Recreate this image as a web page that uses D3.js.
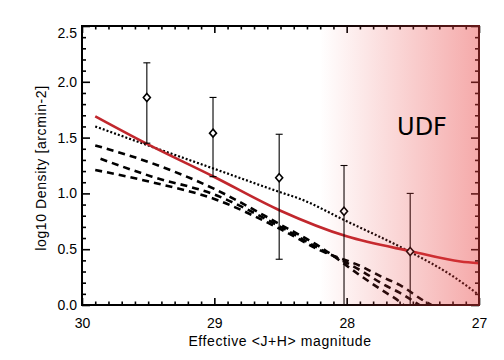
<!DOCTYPE html>
<html><head><meta charset="utf-8">
<script src="https://cdn.jsdelivr.net/npm/d3@7"></script>
<style>body{margin:0;background:#fff}svg{display:block}</style>
</head><body>
<script>
// ---- data ----
const xMajor = [30, 29, 28, 27];
const yMajor = [0.0, 0.5, 1.0, 1.5, 2.0, 2.5];
const pointMag = [29.51, 29.01, 28.51, 28.02, 27.52];
const pointVal = [1.86, 1.54, 1.14, 0.84, 0.48];
const errHigh  = [2.17, 1.86, 1.53, 1.25, 1.00];
const errLow   = [1.45, 1.15, 0.41, -0.2, -0.2];
const redFit = [[29.9,1.69],[29.52,1.45],[29.0,1.147],[28.5,0.845],[28.0,0.615],[27.5,0.478],[27.14,0.39],[27.0,0.375]];
const dottedModel = [[29.9,1.60],[29.5,1.43],[29.0,1.22],[28.5,1.01],[28.35,0.95],[28.02,0.762],[27.52,0.475],[27.2,0.26],[27.0,0.09]];
const dashedA = [[29.9,1.43],[29.47,1.27],[29.0,1.04],[28.5,0.72],[28.2,0.52],[27.88,0.25],[27.73,0.13],[27.6,0.03],[27.57,0.0]];
const dashedB = [[29.86,1.31],[29.47,1.15],[29.0,0.99],[28.5,0.70],[28.2,0.50],[27.88,0.30],[27.73,0.19],[27.6,0.11],[27.45,0.0]];
const dashedC = [[29.9,1.21],[29.47,1.10],[29.0,0.95],[28.5,0.68],[28.2,0.49],[27.88,0.34],[27.73,0.25],[27.6,0.18],[27.42,0.04],[27.36,0.0]];
const udfStart = 28.2;

// ---- layout ----
const W = 504, H = 360;
const L = 82, R = 479, T = 26, B = 305;
const x = d3.scaleLinear().domain([30, 27]).range([L, R]);
const y = d3.scaleLinear().domain([0, 2.5]).range([B, T]);

const svg = d3.select("body").append("svg").attr("width", W).attr("height", H);
const defs = svg.append("defs");
defs.append("clipPath").attr("id", "clip").append("rect")
  .attr("x", L).attr("y", T).attr("width", R - L).attr("height", B - T);
const grad = defs.append("linearGradient").attr("id", "udf").attr("x1", "0").attr("x2", "1").attr("y1", "0").attr("y2", "0");
grad.append("stop").attr("offset", "0").attr("stop-color", "rgb(232,60,60)").attr("stop-opacity", 0);
grad.append("stop").attr("offset", "1").attr("stop-color", "rgb(232,60,60)").attr("stop-opacity", 0.44);

const plot = svg.append("g").attr("clip-path", "url(#clip)");
const line = d3.line().x(d => x(d[0])).y(d => y(d[1]));
const smooth = d3.line().x(d => x(d[0])).y(d => y(d[1])).curve(d3.curveMonotoneX);

// dashed models
[dashedA, dashedB, dashedC].forEach(s => {
  plot.append("path").attr("d", smooth(s)).attr("fill", "none")
    .attr("stroke", "#000").attr("stroke-width", 2.6).attr("stroke-dasharray", "7,5");
});
// dotted model
plot.append("path").attr("d", smooth(dottedModel)).attr("fill", "none")
  .attr("stroke", "#000").attr("stroke-width", 2.2).attr("stroke-dasharray", "2,2");
// red fit
plot.append("path").attr("d", smooth(redFit)).attr("fill", "none")
  .attr("stroke", "#c1272d").attr("stroke-width", 2.6);

// error bars and diamonds
pointMag.forEach((m, i) => {
  const cx = x(m);
  plot.append("line").attr("x1", cx).attr("x2", cx)
    .attr("y1", y(errHigh[i])).attr("y2", y(errLow[i]))
    .attr("stroke", "#000").attr("stroke-width", 1.1);
  [errHigh[i], errLow[i]].forEach(v => {
    plot.append("line").attr("x1", cx - 3.5).attr("x2", cx + 3.5)
      .attr("y1", y(v)).attr("y2", y(v)).attr("stroke", "#000").attr("stroke-width", 1.1);
  });
  const cy = y(pointVal[i]);
  plot.append("path")
    .attr("d", `M${cx},${cy - 4}L${cx + 3.5},${cy}L${cx},${cy + 4}L${cx - 3.5},${cy}Z`)
    .attr("fill", "#fff").attr("stroke", "#000").attr("stroke-width", 1.6);
});

// axes
function minorVals(a, b, step) { const v = []; for (let k = Math.round(a / step); k <= Math.round(b / step); k++) v.push(+(k * step).toFixed(2)); return v; }
const xMinor = minorVals(27, 30, 0.1).filter(v => !xMajor.includes(v));
const yMinor = minorVals(0, 2.5, 0.1).filter(v => !yMajor.some(m => Math.abs(m - v) < 1e-6));

const axG = svg.append("g").attr("font-family", "Liberation Sans, Arial, sans-serif");
function styleAxis(g) { g.select(".domain").remove(); g.selectAll("line").attr("stroke", "#000").attr("stroke-width", 1.6); }

axG.append("g").attr("transform", `translate(0,${B})`)
  .call(d3.axisBottom(x).tickValues(xMajor).tickSize(-7).tickPadding(13).tickFormat(d3.format("d")))
  .call(styleAxis).call(g => g.selectAll("text").attr("font-size", 14).attr("fill", "#000"));
axG.append("g").attr("transform", `translate(0,${B})`)
  .call(d3.axisBottom(x).tickValues(xMinor).tickSize(-3.5).tickFormat(""))
  .call(styleAxis);
axG.append("g").attr("transform", `translate(0,${T})`)
  .call(d3.axisTop(x).tickValues(xMajor).tickSize(-7).tickFormat(""))
  .call(styleAxis);
axG.append("g").attr("transform", `translate(0,${T})`)
  .call(d3.axisTop(x).tickValues(xMinor).tickSize(-3.5).tickFormat(""))
  .call(styleAxis);
axG.append("g").attr("transform", `translate(${L},0)`)
  .call(d3.axisLeft(y).tickValues(yMajor).tickSize(-8).tickPadding(5).tickFormat(d3.format(".1f")))
  .call(styleAxis).call(g => g.selectAll("text").attr("font-size", 14).attr("fill", "#000")
    .attr("dy", d => d === 2.5 ? "0.85em" : "0.32em"));
axG.append("g").attr("transform", `translate(${L},0)`)
  .call(d3.axisLeft(y).tickValues(yMinor).tickSize(-4).tickFormat(""))
  .call(styleAxis);
axG.append("g").attr("transform", `translate(${R},0)`)
  .call(d3.axisRight(y).tickValues(yMajor).tickSize(-8).tickFormat(""))
  .call(styleAxis);
axG.append("g").attr("transform", `translate(${R},0)`)
  .call(d3.axisRight(y).tickValues(yMinor).tickSize(-4).tickFormat(""))
  .call(styleAxis);

svg.append("rect").attr("x", L).attr("y", T).attr("width", R - L).attr("height", B - T)
  .attr("fill", "none").attr("stroke", "#000").attr("stroke-width", 2);

// UDF shaded region overlay
svg.append("rect").attr("x", x(udfStart)).attr("y", T - 1)
  .attr("width", R + 1 - x(udfStart)).attr("height", B - T + 2)
  .attr("fill", "url(#udf)");

svg.append("text").attr("x", 422).attr("y", 135).attr("text-anchor", "middle")
  .attr("font-family", "DejaVu Sans, sans-serif").attr("font-size", 24).attr("fill", "#000")
  .text("UDF");

// axis titles
svg.append("text").attr("x", 280).attr("y", 346).attr("text-anchor", "middle")
  .attr("font-family", "Liberation Sans, Arial, sans-serif").attr("font-size", 14)
  .attr("letter-spacing", 0.6).attr("fill", "#000").text("Effective <J+H> magnitude");
svg.append("text").attr("transform", "translate(46,168) rotate(-90)").attr("text-anchor", "middle")
  .attr("font-family", "Liberation Sans, Arial, sans-serif").attr("font-size", 14)
  .attr("letter-spacing", 0.6).attr("fill", "#000").text("log10 Density [arcmin-2]");
</script>
</body></html>
